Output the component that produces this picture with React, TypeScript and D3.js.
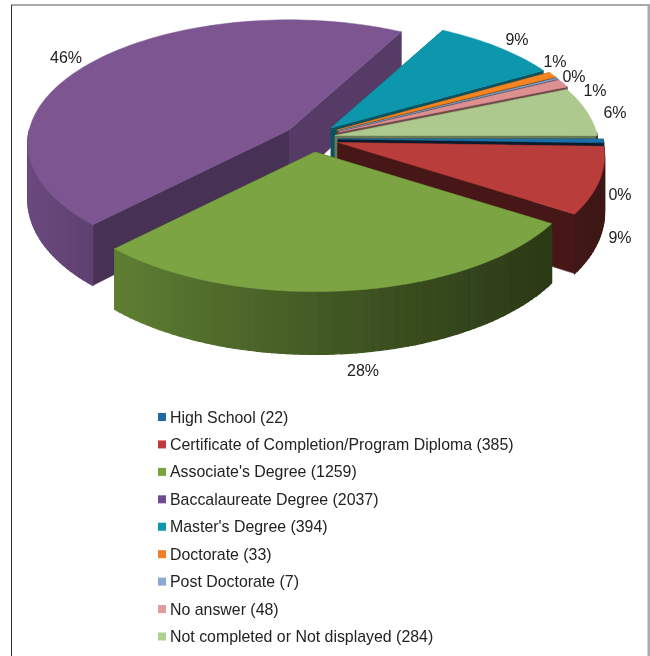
import React from "react";
import * as d3 from "d3";

const categories = [
  "High School",
  "Certificate of Completion/Program Diploma",
  "Associate's Degree",
  "Baccalaureate Degree",
  "Master's Degree",
  "Doctorate",
  "Post Doctorate",
  "No answer",
  "Not completed or Not displayed",
];
const counts = [22, 385, 1259, 2037, 394, 33, 7, 48, 284];
const topColors = ["#1d6fa8", "#b93c3a", "#7ba442", "#7b5491", "#0e97ad", "#f58420", "#7f9fc9", "#dc9090", "#aec98d"];
const swatchColors = ["#1f6aa5", "#c0393a", "#78a33c", "#6f4a93", "#0a97ab", "#f47f26", "#8aa9d3", "#e39a9a", "#b0d08f"];

// exploded apex of every slice on the page
const apexX = [338, 338, 315, 289, 331, 337, 338, 339, 335];
const apexY = [139, 142.5, 152, 130, 128, 130, 131, 132, 135.5];
const radiusScale = [1, 1, 1, 0.98, 0.975, 0.975, 0.975, 0.975, 0.99];
// shade of the cut faces of each slice
const startWallShade = [0.3, 0.38, 0.5, 0.58, 0.6, 0.5, 0.5, 0.5, 0.6];
const endWallShade = [0.25, 0.38, 0.5, 0.7, 0.55, 0.5, 0.5, 0.5, 0.6];
// label anchors
const labelX = [620, 620, 363, 66, 517, 555, 574, 595, 615];
const labelY = [194, 237, 370, 57, 39, 61, 76, 90, 112];

const RADIUS = 265;
const TILT = 0.47;
const PERSPECTIVE = 0.108;
const DEPTH = 56;
const FONT = "'Liberation Sans', Arial, sans-serif";

const total = d3.sum(counts);
const pct = d3.format(".0%");
const pie = d3.pie<number>().sort(null).startAngle(Math.PI / 2).endAngle(Math.PI * 2.5);
const slices = pie(counts);

const project = (i: number, theta: number, below: boolean): [number, number] => {
  const X = Math.cos(theta);
  const Y = Math.sin(theta);
  const s = 1 / (1 - PERSPECTIVE * Y);
  const R = RADIUS * radiusScale[i];
  return [apexX[i] + R * X * s, apexY[i] + R * TILT * Y * s + (below ? DEPTH * s : 0)];
};

const line = d3.line();
const darken = (c: string, f: number) => {
  const r = d3.rgb(c);
  return d3.rgb(r.r * f, r.g * f, r.b * f).formatHex();
};
const arcShade = (theta: number) => {
  const t = (1 - Math.cos(theta)) / 2;
  return 0.33 + 0.55 * Math.pow(t, 1.3);
};

function Slice({ i }: { i: number }) {
  const a0 = slices[i].startAngle - Math.PI / 2;
  const a1 = slices[i].endAngle - Math.PI / 2;
  const apex: [number, number] = [apexX[i], apexY[i]];
  const apexBelow: [number, number] = [apexX[i], apexY[i] + DEPTH];
  const steps = Math.max(2, Math.ceil((a1 - a0) / (Math.PI / 120)));
  const angles = d3.range(steps + 1).map((k) => a0 + ((a1 - a0) * k) / steps);
  const rim = angles.map((t) => project(i, t, false));
  const c = topColors[i];
  const wall = (t: number, f: number) => {
    const col = darken(c, f);
    return (
      <path
        d={line([apex, project(i, t, false), project(i, t, true), apexBelow])! + "Z"}
        fill={col}
        stroke={col}
        strokeWidth={0.5}
      />
    );
  };
  return (
    <g>
      {wall(a0, startWallShade[i])}
      {wall(a1, endWallShade[i])}
      {angles.slice(0, -1).map((t, k) => {
        const t2 = angles[k + 1];
        if (Math.sin((t + t2) / 2) < -0.02) return null;
        const col = darken(c, arcShade((t + t2) / 2));
        return (
          <path
            key={k}
            d={line([project(i, t, false), project(i, t2, false), project(i, t2, true), project(i, t, true)])! + "Z"}
            fill={col}
            stroke={col}
            strokeWidth={1.2}
          />
        );
      })}
      <path d={line([apex, ...rim])! + "Z"} fill={c} stroke={c} strokeWidth={0.5} />
    </g>
  );
}

const drawOrder = [3, 4, 5, 6, 7, 8, 0, 1, 2];

const legendY = d3.scalePoint<string>().domain(categories).range([417, 636.5]);

export default function App() {
  return (
    <svg
      width={650}
      height={656}
      viewBox="0 0 650 656"
      style={{ position: "absolute", left: 0, top: 0, display: "block", background: "#fff" }}
    >
      <defs>
        <filter id="soft" x="-5%" y="-5%" width="110%" height="110%">
          <feGaussianBlur stdDeviation="0.5" />
        </filter>
      </defs>
      <rect x={11} y={4} width={639} height={2} fill="#aaaaaa" />
      <rect x={647.5} y={4} width={2.5} height={652} fill="#aaaaaa" />
      <rect x={11} y={5} width={1} height={651} fill="#333333" />
      <g filter="url(#soft)">
        {drawOrder.map((i) => (
          <Slice key={i} i={i} />
        ))}
        {counts.map((v, i) => (
          <text
            key={i}
            x={labelX[i]}
            y={labelY[i]}
            textAnchor="middle"
            dominantBaseline="central"
            fontFamily={FONT}
            fontSize={16}
            fill="#222"
          >
            {pct(v / total)}
          </text>
        ))}
        {categories.map((name, i) => (
          <g key={name}>
            <rect x={158} y={legendY(name)! - 4} width={8} height={8} fill={swatchColors[i]} />
            <text
              x={170}
              y={legendY(name)!}
              dominantBaseline="central"
              fontFamily={FONT}
              fontSize={15.9}
              fill="#222"
            >
              {`${name} (${counts[i]})`}
            </text>
          </g>
        ))}
      </g>
    </svg>
  );
}
